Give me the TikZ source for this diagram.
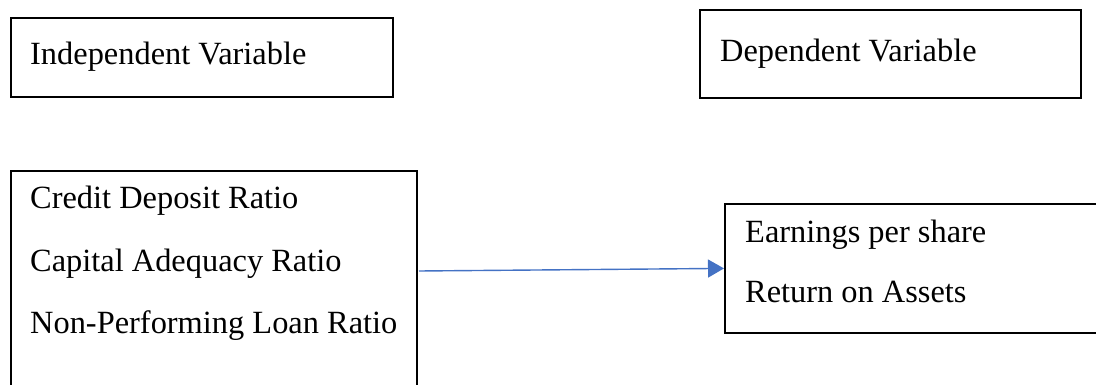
\documentclass[tikz,border=0pt]{standalone}
\usepackage{fontspec}
\setmainfont{Liberation Serif}
\usetikzlibrary{arrows.meta}
\definecolor{arrowblue}{HTML}{4472C4}
\tikzset{
  box/.style={draw=black, line width=1.8pt, rectangle, anchor=north west, inner sep=0pt},
  lbl/.style={anchor=base west, inner sep=0pt, font=\fontsize{32.4}{38}\selectfont},
  link/.style={draw=arrowblue, line width=1.4pt, -{Triangle[length=16pt,width=18pt]}}
}
\begin{document}
\begin{tikzpicture}[x=1pt, y=-1pt]
\useasboundingbox (0,0) rectangle (1096,385);
% boxes
\node[box, minimum width=382pt, minimum height=79pt] (b1) at (10,17) {};
\node[box, minimum width=381pt, minimum height=88pt] (b2) at (699,9) {};
\node[box, minimum width=406pt, minimum height=240pt] (b3) at (10,170) {};
\node[box, minimum width=400pt, minimum height=129pt] (b4) at (724,203) {};
% labels
\node[lbl] (t1) at (30,65) {Independent Variable};
\node[lbl] (t2) at (720,62) {Dependent Variable};
\node[lbl] (t3) at (30,208) {Credit Deposit Ratio};
\node[lbl] (t4) at (30,271) {Capital Adequacy Ratio};
\node[lbl] (t5) at (30,333) {Non-Performing Loan Ratio};
\node[lbl] (t6) at (745,242) {Earnings per share};
\node[lbl] (t7) at (745,302) {Return on Assets};
% connector
\coordinate (s) at (419,271);
\draw[link] (s) -- (b4.west);
\end{tikzpicture}
\end{document}
